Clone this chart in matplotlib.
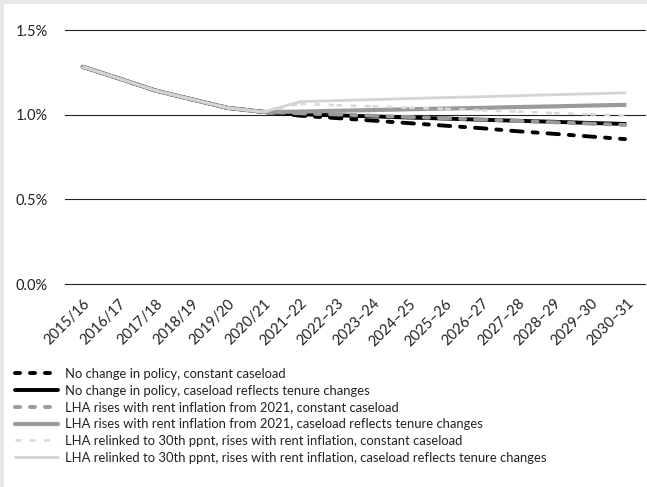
import numpy as np
import matplotlib
matplotlib.use('Agg')
import matplotlib.pyplot as plt
from matplotlib.patches import Rectangle
from matplotlib.lines import Line2D

plt.rcParams['font.family'] = ['Lato', 'DejaVu Sans']

# Years on the x axis
years = ['2015/16', '2016/17', '2017/18', '2018/19', '2019/20', '2020/21',
         '2021\u201322', '2022\u201323', '2023\u201324', '2024\u201325', '2025\u201326',
         '2026\u201327', '2027\u201328', '2028\u201329', '2029\u201330', '2030\u201331']

# Shared history up to 2020/21 (%)
history = [1.283, 1.214, 1.143, 1.091, 1.040, 1.016]

# Projections from 2021-22 for each scenario
no_change_const = [0.994, 0.980, 0.965, 0.950, 0.935, 0.920, 0.902, 0.887, 0.871, 0.855]
no_change_tenure = [1.002, 0.996, 0.990, 0.983, 0.977, 0.970, 0.964, 0.958, 0.951, 0.945]
lha_rent_const = [1.008, 1.001, 0.994, 0.986, 0.979, 0.971, 0.963, 0.955, 0.947, 0.939]
lha_rent_tenure = [1.018, 1.023, 1.027, 1.032, 1.036, 1.040, 1.045, 1.049, 1.054, 1.058]
lha_30th_const = [1.064, 1.056, 1.049, 1.041, 1.034, 1.026, 1.018, 1.010, 1.002, 0.994]
lha_30th_tenure = [1.077, 1.083, 1.089, 1.095, 1.101, 1.106, 1.112, 1.118, 1.123, 1.129]

labels = ['No change in policy, constant caseload',
          'No change in policy, caseload reflects tenure changes',
          'LHA rises with rent inflation from 2021, constant caseload',
          'LHA rises with rent inflation from 2021, caseload reflects tenure changes',
          'LHA relinked to 30th ppnt, rises with rent inflation, constant caseload',
          'LHA relinked to 30th ppnt, rises with rent inflation, caseload reflects tenure changes']

series = [no_change_const, no_change_tenure, lha_rent_const,
          lha_rent_tenure, lha_30th_const, lha_30th_tenure]
colors = ['#000000', '#000000', '#9a9a9a', '#9a9a9a', '#d9d9d9', '#d4d4d4']
dashes = [(1.3, 2.55), None, (1.3, 2.55), None, (2.2, 3.2), None]
widths = [2.8, 2.8, 2.8, 3.0, 1.9, 2.0]

fig = plt.figure(figsize=(6.47, 4.87), dpi=100)
fig.patch.set_facecolor('#e6e7e8')
# white panel inside grey frame
fig.patches.append(Rectangle((4 / 647, 0), 1, 1 - 4 / 487, transform=fig.transFigure,
                             facecolor='white', edgecolor='none', zorder=-1))

ax = fig.add_axes([64.5 / 647, 203 / 487, 580 / 647, 254 / 487])
ax.set_facecolor('none')

x = np.arange(len(years))
handles = []
for s, c, d, lw, lab in zip(series, colors, dashes, widths, labels):
    y = history + s
    if d is None:
        ax.plot(x, y, color=c, linewidth=lw, solid_capstyle='butt', zorder=3)
        handles.append(Line2D([], [], color=c, linewidth=lw, solid_capstyle='round'))
    else:
        cap = 'round' if lw > 2 else 'butt'
        # dash pattern restarts on every segment, like the original chart
        for i in range(len(x) - 1):
            ax.plot(x[i:i + 2], y[i:i + 2], color=c, linewidth=lw, linestyle=(0, d),
                    dash_capstyle=cap, zorder=3)
        handles.append(Line2D([], [], color=c, linewidth=lw, linestyle=(0, d),
                              dash_capstyle=cap))

# horizontal gridlines
for v in [0, 0.5, 1.0, 1.5]:
    ax.axhline(v, color='#222222', linewidth=0.8, zorder=1, clip_on=False)

ax.set_xlim(-0.5, 15.5)
ax.set_ylim(0, 1.5)
ax.set_yticks([0, 0.5, 1.0, 1.5])
ax.set_yticklabels(['0.0%', '0.5%', '1.0%', '1.5%'])
ax.set_xticks(x)
ax.set_xticklabels(years, rotation=45, ha='right', rotation_mode='anchor')
ax.tick_params(axis='both', length=0, labelsize=10.5, colors='#222222')
ax.tick_params(axis='y', pad=12)
ax.tick_params(axis='x', pad=9)
for sp in ax.spines.values():
    sp.set_visible(False)

fig.legend(handles, labels, loc='upper left', bbox_to_anchor=(15 / 647, 1 - 368 / 487),
           frameon=False, fontsize=9.4, handlelength=3.3, handletextpad=0.5,
           labelspacing=0.36, borderpad=0, borderaxespad=0, labelcolor='#222222')

fig.savefig('out.png', dpi=100, facecolor=fig.get_facecolor())
